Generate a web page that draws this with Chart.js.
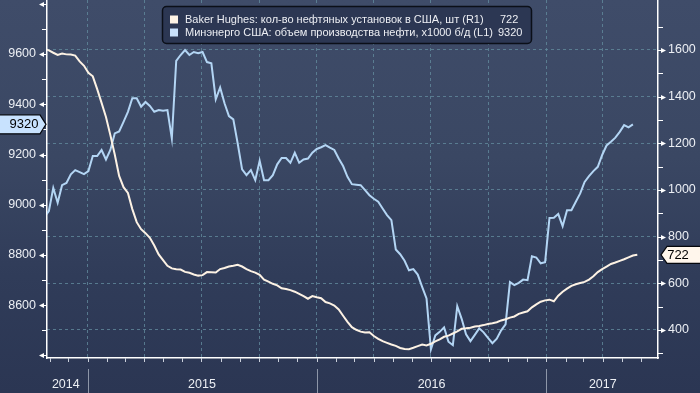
<!DOCTYPE html>
<html><head><meta charset="utf-8">
<script src="https://cdn.jsdelivr.net/npm/chart.js@4.4.0/dist/chart.umd.min.js"></script>
<style>
html,body{margin:0;padding:0;background:#2b3653;}
#wrap{position:relative;width:700px;height:393px;background:linear-gradient(to bottom,#3f4c69 0%,#3a4763 40%,#303c59 70%,#2b3653 100%);}
canvas{display:block;}
</style></head><body>
<div id="wrap"><canvas id="c" width="700" height="393"></canvas></div>
<script>
// ---- data (weekly, Fridays) ----
const firstWeek = '2014-10-24';
const rigCount = [
 1605,1598,1588,1579,1585,1581,1580,1576,1551,1532,
 1502,1487,1432,1373,1313,1235,1152,1060,1012,987,
 918,862,832,815,795,762,724,699,675,664,
 660,659,649,645,638,633,635,648,647,646,
 661,666,672,675,679,672,661,652,646,636,
 616,607,598,591,579,576,571,564,555,545,
 534,545,540,536,520,514,505,488,461,435,
 412,401,393,389,390,374,362,352,345,338,
 332,323,319,318,324,331,338,334,341,351,
 360,371,376,385,394,405,407,410,415,417,
 421,426,429,433,441,446,453,458,469,475,
 480,497,510,521,527,530,523,547,564,577,
 589,596,601,606,616,630,648,661,672,683,
 689,696,703,711,719,722];
const oilOutput = [
 8952,8975,9067,9008,9078,9087,9121,9138,9130,9122,
 9134,9194,9194,9218,9180,9218,9284,9292,9330,9370,
 9424,9424,9390,9409,9393,9370,9377,9374,9377,9264,
 9573,9596,9616,9596,9608,9603,9608,9568,9563,9420,
 9467,9404,9353,9340,9244,9141,9118,9138,9098,9175,
 9098,9098,9118,9161,9186,9186,9167,9207,9167,9180,
 9184,9207,9222,9229,9237,9227,9218,9184,9154,9111,
 9082,9080,9078,9058,9038,9024,9012,8985,8959,8939,
 8822,8803,8777,8739,8744,8722,8673,8627,8424,8480,
 8494,8512,8455,8441,8596,8546,8484,8457,8482,8508,
 8492,8470,8449,8467,8500,8524,8692,8680,8689,8702,
 8700,8795,8790,8767,8771,8947,8948,8963,8915,8978,
 8978,9012,9045,9091,9114,9134,9151,9198,9236,9251,
 9267,9290,9317,9308,9320];
const seriesNames = ['Baker Hughes: кол-во нефтяных установок в США, шт (R1)',
                     'Минэнерго США: объем производства нефти, x1000 б/д (L1)'];
const lastValues = ['722','9320'];
const yearLabels = ['2014','2015','2016','2017'];
const yearLabelDates = ['2014-11-27','2015-07-02','2016-07-02','2017-04-01'];
const yearStarts = ['2015-01-01','2016-01-01','2017-01-01'];
const quarterDates = ['2015-01-01','2015-04-01','2015-07-01','2015-10-01','2016-01-01','2016-04-01',
                      '2016-07-01','2016-10-01','2017-01-01','2017-04-01'];
const leftTicks = [8600,8800,9000,9200,9400,9600];
const rightTicks = [400,600,800,1000,1200,1400,1600];
const xRange = ['2014-10-28','2017-06-28'];

// ---- helpers ----
const BASE = Date.UTC(2015,0,1);
const dayNum = s => (Date.parse(s + 'T00:00:00Z') - BASE) / 86400000;
const week0 = dayNum(firstWeek);
const rigPts = rigCount.map((v,i) => ({x: week0 + 7*i, y: v}));
const oilPts = oilOutput.map((v,i) => ({x: week0 + 7*i, y: v}));

const GRID = 'rgba(98,138,156,0.8)';
const TXT = '#eceff4';
const RIG_C = '#fdf2e4';
const OIL_C = '#b3d5f4';
Chart.defaults.font.family = '"Liberation Sans", Arial, sans-serif';

const xTicks = quarterDates.map(d => ({value: dayNum(d)}))
  .concat(yearLabels.map((y,i) => ({value: dayNum(yearLabelDates[i]), year: y})))
  .sort((a,b) => a.value - b.value);

function poly(ctx, pts){ ctx.beginPath(); ctx.moveTo(pts[0][0],pts[0][1]); for(let i=1;i<pts.length;i++) ctx.lineTo(pts[i][0],pts[i][1]); ctx.closePath(); }

const deco = {
  id: 'deco',
  afterDraw(chart){
    const {ctx, chartArea: ca, scales} = chart;
    const yL = scales.yL, yR = scales.yR, x = scales.x;
    ctx.save();
    ctx.fillStyle = '#fff'; ctx.strokeStyle = '#fff'; ctx.lineWidth = 1;
    // left axis marks
    for (let v = 8400; v <= 9800; v += 100){
      const y = Math.round(yL.getPixelForValue(v)) + 0.5;
      if (y < ca.top + 2 || y > ca.bottom) continue;
      if (v % 200 === 0){
        poly(ctx, [[ca.left-8, y],[ca.left-3, y-2.5],[ca.left-3, y+2.5]]); ctx.fill();
        ctx.beginPath(); ctx.moveTo(ca.left-3,y); ctx.lineTo(ca.left,y); ctx.stroke();
      } else {
        ctx.beginPath(); ctx.moveTo(ca.left-5,y); ctx.lineTo(ca.left,y); ctx.stroke();
      }
    }
    // right axis marks
    for (let v = 300; v <= 1700; v += 100){
      const y = Math.round(yR.getPixelForValue(v)) + 0.5;
      if (y < ca.top + 2 || y > ca.bottom) continue;
      if (v % 200 === 0){
        ctx.beginPath(); ctx.moveTo(ca.right,y); ctx.lineTo(ca.right+3,y); ctx.stroke();
        poly(ctx, [[ca.right+8, y],[ca.right+3, y-2.5],[ca.right+3, y+2.5]]); ctx.fill();
      } else {
        ctx.beginPath(); ctx.moveTo(ca.right,y); ctx.lineTo(ca.right+5,y); ctx.stroke();
      }
    }
    // monthly ticks under the x axis
    ctx.strokeStyle = '#c9cfda';
    for (let yr = 2014; yr <= 2017; yr++){
      for (let m = 0; m < 12; m++){
        const d = (Date.UTC(yr,m,1) - BASE)/86400000;
        const px = Math.round(x.getPixelForValue(d)) + 0.5;
        if (px <= ca.left + 1 || px >= ca.right - 1) continue;
        ctx.beginPath(); ctx.moveTo(px, ca.bottom); ctx.lineTo(px, ca.bottom + 4); ctx.stroke();
      }
    }
    // year separators
    ctx.strokeStyle = '#8d96a8';
    yearStarts.forEach(s => {
      const px = Math.round(x.getPixelForValue(dayNum(s))) + 0.5;
      ctx.beginPath(); ctx.moveTo(px, ca.bottom + 11); ctx.lineTo(px, chart.height); ctx.stroke();
    });
    // value badges
    ctx.font = '13px "Liberation Sans", Arial, sans-serif';
    ctx.textBaseline = 'middle'; ctx.textAlign = 'center';
    const yo = yL.getPixelForValue(Number(lastValues[1]));
    poly(ctx, [[-1, yo-9.5],[40, yo-9.5],[46, yo],[40, yo+9.5],[-1, yo+9.5]]);
    ctx.fillStyle = '#c8e2fe'; ctx.fill(); ctx.strokeStyle = '#05070c'; ctx.lineWidth = 1.2; ctx.stroke();
    ctx.fillStyle = '#000'; ctx.fillText(lastValues[1], 24, yo + 0.5);
    const yr2 = yR.getPixelForValue(Number(lastValues[0]));
    poly(ctx, [[ca.right+3, yr2],[ca.right+9, yr2-8.5],[701, yr2-8.5],[701, yr2+8.5],[ca.right+9, yr2+8.5]]);
    ctx.fillStyle = '#fff6ec'; ctx.fill(); ctx.strokeStyle = '#05070c'; ctx.stroke();
    ctx.fillStyle = '#000'; ctx.fillText(lastValues[0], 678, yr2 + 0.5);
    // legend box
    ctx.beginPath();
    ctx.roundRect(162.5, 6.5, 369, 37, 4);
    ctx.fillStyle = '#2c3753'; ctx.fill();
    ctx.strokeStyle = '#0b0f18'; ctx.lineWidth = 1.5; ctx.stroke();
    const rowsY = [19.5, 32.5];
    const sw = [RIG_C, '#c8e0fb'];
    ctx.font = '11px "Liberation Sans", Arial, sans-serif';
    ctx.textAlign = 'left';
    rowsY.forEach((ry, i) => {
      ctx.fillStyle = sw[i]; ctx.fillRect(170, ry - 4, 8, 8);
      ctx.fillStyle = '#eceef3';
      ctx.fillText(seriesNames[i], 185, ry);
      ctx.fillText(lastValues[i], i === 0 ? 500 : 498, ry);
    });
    ctx.restore();
  }
};

new Chart(document.getElementById('c'), {
  type: 'line',
  data: { datasets: [
    { label: seriesNames[0], data: rigPts, yAxisID: 'yR', borderColor: RIG_C, borderWidth: 2,
      pointRadius: 0, tension: 0, order: 0 },
    { label: seriesNames[1], data: oilPts, yAxisID: 'yL', borderColor: OIL_C, borderWidth: 2,
      pointRadius: 0, tension: 0, order: 1 }
  ]},
  options: {
    responsive: false, animation: false, devicePixelRatio: 1,
    layout: { padding: 0 },
    plugins: { legend: { display: false }, tooltip: { enabled: false } },
    scales: {
      x: {
        type: 'linear', position: 'bottom',
        min: dayNum(xRange[0]), max: dayNum(xRange[1]),
        afterBuildTicks: s => { s.ticks = xTicks.map(t => Object.assign({}, t)); },
        afterFit: s => { s.height = 35; s.paddingLeft = 0; s.paddingRight = 0; },
        grid: { color: c => (c.tick && c.tick.year) ? 'rgba(0,0,0,0)' : GRID, lineWidth: 1, drawTicks: false },
        border: { display: true, color: '#ffffff', width: 1.5, dash: [3,3] },
        ticks: { autoSkip: false, maxRotation: 0, padding: 19, color: TXT, font: { size: 12.5 },
                 callback: (v, i, t) => t[i].year || '' }
      },
      yL: {
        type: 'linear', position: 'left', min: 8390, max: 9815,
        afterBuildTicks: s => { s.ticks = leftTicks.map(v => ({value: v})); },
        afterFit: s => { s.width = 47; s.paddingTop = 0; s.paddingBottom = 0; },
        grid: { display: false, drawTicks: false },
        border: { display: true, color: '#ffffff', width: 1.5 },
        ticks: { padding: 11, color: TXT, font: { size: 12.5 }, callback: v => String(v) }
      },
      yR: {
        type: 'linear', position: 'right', min: 280, max: 1814,
        afterBuildTicks: s => { s.ticks = rightTicks.map(v => ({value: v})); },
        afterFit: s => { s.width = 42; s.paddingTop = 0; s.paddingBottom = 0; },
        grid: { color: GRID, lineWidth: 1, drawTicks: false },
        border: { display: true, color: '#ffffff', width: 1.5, dash: [3,3] },
        ticks: { padding: 10, color: TXT, font: { size: 12.5 }, callback: v => String(v) }
      }
    }
  },
  plugins: [deco]
});
</script>
</body></html>
